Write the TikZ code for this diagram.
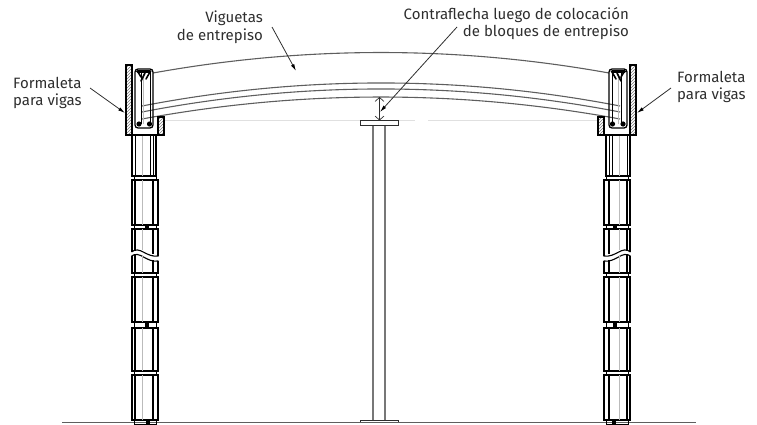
\documentclass[tikz,border=0pt]{standalone}
\usepackage{fontspec}
\setmainfont{Fira Sans}
\usetikzlibrary{arrows.meta,patterns}
\definecolor{inkgray}{HTML}{2E2E2E}
\definecolor{joistgray}{HTML}{5E5E5E}
\definecolor{midgray}{HTML}{777777}
\definecolor{palegray}{HTML}{BBBBBB}
\newcommand{\blockpart}[2]{%
  \draw[colline] (132,#1) rectangle (158,#2);
  \draw[colline] (135,#1) -- (135,#2) (153,#1) -- (153,#2);
  \draw[coregray] (142.5,#1) -- (142.5,#2);
}
\newcommand{\stripe}[2]{\draw[colline,line width=0.8pt] (134,#1) rectangle (156,#2);}
\newcommand{\columnside}{%
  % top block under the beam
  \draw[colline] (132,135) rectangle (156,176);
  \draw[colline,line width=0.7pt] (135,135) -- (135,176) (150,135) -- (150,176) (153,135) -- (153,176);
  \draw[coregray] (142.5,135) -- (142.5,176);
  \stripe{176}{180}
  \blockpart{180}{225}
  \stripe{225}{229}
  \fill (145,225) rectangle (149,229);
  % interrupted block
  \draw[colline] (131.5,252) .. controls (140,245) and (146,258) .. (158.5,256)
     (131.5,256) .. controls (140,250) and (146,263) .. (158.5,261);
  \draw[colline] (132,252) -- (132,229) -- (158,229) -- (158,256)
     (132,256) -- (132,273) -- (158,273) -- (158,261);
  \draw[colline] (135,229) -- (135,251) (153,229) -- (153,254)
     (135,255) -- (135,273) (153,260) -- (153,273);
  \draw[coregray] (142.5,229) -- (142.5,250) (142.5,255) -- (142.5,273);
  \stripe{273}{277}
  \blockpart{277}{322}
  \stripe{322}{328}
  \fill (145,322) rectangle (149,327);
  \blockpart{328}{371}
  \stripe{371}{375}
  \blockpart{375}{420}
  \stripe{420}{424}
  \fill (146,420) rectangle (150,424);
  % formwork
  \draw[colline,pattern=north east lines,pattern color=midgray] (126,65) rectangle (132,135);
  \draw[colline,pattern=north east lines,pattern color=midgray] (158,117) rectangle (164,135);
  \draw[colline] (132,135) -- (158,135);
  % beam
  \draw[colline,line width=1.3pt,rounded corners=3pt] (135,69) rectangle (153,128);
  \draw[colline,line width=0.7pt] (141,72) -- (141,124);
  \draw[coregray] (143.5,74) -- (143.5,124);
  \draw[colline,line width=0.7pt] (150,72) -- (150,124);
  \fill (139,124) circle (2.6) (149.5,124) circle (2.6);
  \draw[line width=3pt,line cap=round] (137.5,71.5) -- (150,71.5);
  \draw[line width=1.6pt,line cap=round] (138,72) -- (141,77) (145,73) -- (141,81) (150,72) -- (146,79);
}
\tikzset{
  colline/.style={draw=black,line width=1.1pt},
  coregray/.style={draw=palegray,line width=1.6pt},
  joist/.style={draw=joistgray,line width=1.1pt},
  leader/.style={draw=inkgray,line width=0.8pt,-{Latex[length=7pt,width=3.6pt,black]}},
  label/.style={text=inkgray,font=\fontsize{15}{18}\selectfont,inner sep=0pt},
  post/.style={draw=midgray,line width=1.2pt},
}
\begin{document}
\begin{tikzpicture}[x=1pt,y=-1pt]
\useasboundingbox (0,0) rectangle (757,425);
% ground and reference line
\draw[draw=joistgray,line width=1.8pt] (62,422.5) -- (696,422.5);
\draw[draw=black!12,line width=0.8pt] (165,120.7) -- (415,120.7) (428,120.7) -- (598,120.7);
% joists
\draw[joist] (153,73) .. controls (305,45.7) and (457,45.7) .. (609,73);
\draw[joist] (142,106) .. controls (301,75.3) and (461,75.3) .. (620,106);
\draw[joist] (142,112) .. controls (301,81.3) and (461,81.3) .. (620,112);
\draw[joist] (142,119) .. controls (301,89.7) and (461,89.7) .. (620,119);
% columns
\columnside
\begin{scope}[xshift=762pt,xscale=-1]
\columnside
\end{scope}
% centre post
\draw[post] (373,125) -- (373,420) (385,125) -- (385,420);
\draw[draw=inkgray,line width=0.8pt] (360,120.7) rectangle (398,125);
\draw[draw=inkgray,line width=0.8pt] (360,422) -- (360,420) -- (398,420) -- (398,422);
% camber arrow
\coordinate (camberTop) at (379.5,97);
\coordinate (camberBot) at (379.5,120.5);
\draw[draw=inkgray,line width=0.7pt,{Straight Barb[length=4pt,width=9pt]}-{Straight Barb[length=4pt,width=9pt]}] (camberTop) -- (camberBot);
% labels
\node[label,anchor=base west] (formL1) at (13,89) {Formaleta};
\node[label,anchor=base west] (formL2) at (13,106) {para vigas};
\node[label,anchor=base west] (formR1) at (677,83) {Formaleta};
\node[label,anchor=base west] (formR2) at (677,100) {para vigas};
\node[label,anchor=base east] (vig1) at (263,22.5) {Viguetas};
\node[label,anchor=base east] (vig2) at (263,40.5) {de entrepiso};
\node[label,anchor=base east] (con1) at (629,20) {Contraflecha luego de colocación};
\node[label,anchor=base east] (con2) at (629,37) {de bloques de entrepiso};
% leaders
\coordinate (lfA) at (90,88); \coordinate (lfB) at (125,113);
\coordinate (rfA) at (671,88); \coordinate (rfB) at (637,113);
\coordinate (viA) at (272,27); \coordinate (viB) at (296,71);
\coordinate (coA) at (457,27); \coordinate (coB) at (380,112);
\draw[leader] (lfA) -- (lfB);
\draw[leader] (rfA) -- (rfB);
\draw[leader] (viA) -- (viB);
\draw[leader] (coA) -- (coB);
\end{tikzpicture}
\end{document}
